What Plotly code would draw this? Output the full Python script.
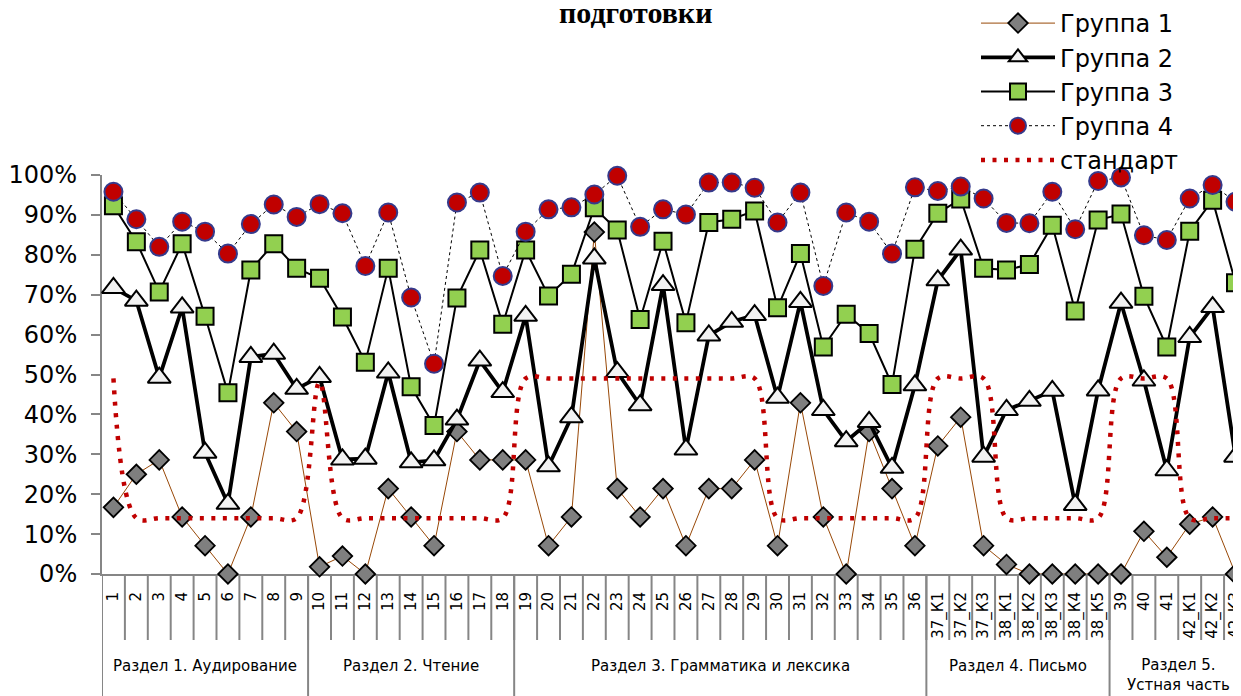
import plotly.graph_objects as go

categories = [str(i) for i in range(1, 37)] + [
    "37_К1", "37_К2", "37_К3",
    "38_К1", "38_К2", "38_К3", "38_К4", "38_К5",
    "39", "40", "41",
    "42_К1", "42_К2", "42_К3"]

group1 = [16.7, 25.0, 28.6, 14.3, 7.1, 0, 14.3, 42.9, 35.7, 1.8,
          4.5, 0, 21.4, 14.3, 7.1, 35.7, 28.6, 28.6, 28.6, 7.1,
          14.3, 85.7, 21.4, 14.3, 21.4, 7.1, 21.4, 21.4, 28.6, 7.1,
          42.9, 14.3, 0, 35.7, 21.4, 7.1,
          32.1, 39.3, 7.1,
          2.4, 0, 0, 0, 0,
          0, 10.7, 4.2,
          12.5, 14.3, 0]

group2 = [71.7, 68.5, 49.2, 66.8, 30.4, 17.6, 54.4, 55.2, 46.4, 49.4,
          28.7, 28.9, 50.5, 28.0, 28.5, 38.7, 53.5, 45.6, 64.7, 27.0,
          39.3, 79.1, 50.6, 42.3, 72.4, 31.2, 59.8, 63.2, 64.9, 44.2,
          68.2, 41.1, 33.3, 38.1, 26.6, 47.3,
          73.6, 81.3, 29.4,
          41.1, 43.4, 45.9, 17.3, 46.0,
          68.0, 48.5, 26.0,
          59.4, 66.9, 29.4]

group3 = [92.3, 83.3, 70.7, 82.8, 64.6, 45.4, 76.2, 82.8, 76.6, 74.1,
          64.4, 53.1, 76.6, 46.9, 37.2, 69.2, 81.2, 62.6, 81.2, 69.7,
          75.1, 91.8, 86.2, 63.8, 83.4, 63.0, 88.1, 88.9, 91.0, 66.7,
          80.3, 56.9, 65.1, 60.3, 47.5, 81.4,
          90.4, 94.0, 76.6,
          76.2, 77.6, 87.4, 65.9, 88.7,
          90.2, 69.6, 56.9,
          85.9, 93.7, 73.0]

group4 = [95.8, 88.9, 82.0, 88.3, 85.8, 80.3, 87.7, 92.6, 89.5, 92.7,
          90.4, 77.2, 90.6, 69.3, 52.7, 93.1, 95.6, 74.7, 85.8, 91.4,
          91.9, 95.1, 99.8, 87.0, 91.4, 90.1, 98.1, 98.1, 96.8, 88.1,
          95.6, 72.2, 90.6, 88.3, 80.3, 96.9,
          96.0, 97.1, 94.1,
          88.0, 87.9, 95.8, 86.4, 98.5,
          99.4, 84.9, 83.7,
          94.1, 97.5, 93.3]

standard = [49, 14, 14, 14, 14, 14, 14, 14, 14, 48,
            14, 14, 14, 14, 14, 14, 14, 14, 49, 49,
            49, 49, 49, 49, 49, 49, 49, 49, 49, 14,
            14, 14, 14, 14, 14, 14,
            49, 49, 49,
            14, 14, 14, 14, 14,
            49, 49, 49,
            14, 14, 14]

section_names = ["Раздел 1. Аудирование", "Раздел 2. Чтение",
                 "Раздел 3. Грамматика и лексика", "Раздел 4. Письмо",
                 "Раздел 5.<br>Устная часть"]
section_sizes = [9, 9, 18, 8, 6]

title_text = "подготовки"

FONT = "DejaVu Sans"
GRAY = "#868686"

fig = go.Figure()

fig.add_trace(go.Scatter(
    x=categories, y=group1, name="Группа 1", mode="lines+markers",
    line=dict(color="#984807", width=1),
    marker=dict(symbol="diamond", size=15, color="#7f7f7f",
                line=dict(color="black", width=1.8)),
    cliponaxis=False))
fig.add_trace(go.Scatter(
    x=categories, y=group2, name="Группа 2", mode="lines+markers",
    line=dict(color="black", width=3.8),
    marker=dict(symbol="triangle-up", size=20, color="#f2f2f2",
                line=dict(color="black", width=2)),
    cliponaxis=False))
fig.add_trace(go.Scatter(
    x=categories, y=group3, name="Группа 3", mode="lines+markers",
    line=dict(color="black", width=2),
    marker=dict(symbol="square", size=17, color="#92d050",
                line=dict(color="black", width=2)),
    cliponaxis=False))
fig.add_trace(go.Scatter(
    x=categories, y=group4, name="Группа 4", mode="lines+markers",
    line=dict(color="black", width=1, dash="dot"),
    marker=dict(symbol="circle", size=18, color="#c00000",
                line=dict(color="#353a8c", width=2)),
    cliponaxis=False))
fig.add_trace(go.Scatter(
    x=categories, y=standard, name="стандарт", mode="lines",
    line=dict(color="#c00000", width=4.5, dash="4px,7.5px",
              shape="spline", smoothing=1),
    cliponaxis=False))

# The page body adds an 8px offset; target page geometry:
OFF = 8
PAGE_W, PAGE_H = 1241, 696
plot_left, plot_top, plot_bottom = 102, 175, 574   # page pixels
W, H = PAGE_W - OFF, PAGE_H - OFF
ml = plot_left - OFF
mt = plot_top - OFF
plot_h = plot_bottom - plot_top
mb = H - mt - plot_h
plot_w = W - ml
n = len(categories)


def px(xpage):
    return (xpage - plot_left) / plot_w


def py(ypage):
    return (plot_bottom - ypage) / plot_h


shapes = []
# short separators between categories
for i in range(n):
    shapes.append(dict(type="line", xref="x", yref="paper",
                       x0=i - 0.5, x1=i - 0.5, y0=0, y1=py(640),
                       line=dict(color=GRAY, width=2), layer="below"))
# long separators at section boundaries
annotations = []
start = 0
for name, size in zip(section_names, section_sizes):
    shapes.append(dict(type="line", xref="x", yref="paper",
                       x0=start - 0.5, x1=start - 0.5, y0=0, y1=py(PAGE_H + 2),
                       line=dict(color=GRAY, width=2), layer="below"))
    two = "<br>" in name
    annotations.append(dict(
        text=name, xref="x", yref="paper",
        x=start + (size - 1) / 2, y=py(675 if two else 666),
        xanchor="center", yanchor="middle", showarrow=False,
        font=dict(family=FONT, size=15, color="black")))
    start += size
shapes.append(dict(type="line", xref="x", yref="paper",
                   x0=start - 0.5, x1=start - 0.5, y0=0, y1=py(PAGE_H + 2),
                   line=dict(color=GRAY, width=2), layer="below"))

annotations.append(dict(
    text="<b>" + title_text + "</b>", xref="paper", yref="paper",
    x=px(635), y=py(12),
    xanchor="center", yanchor="middle", showarrow=False,
    font=dict(family="Liberation Serif", size=30, color="black")))

fig.update_layout(
    width=W, height=H, autosize=False,
    margin=dict(l=ml, r=0, t=mt, b=mb, pad=0, autoexpand=False),
    paper_bgcolor="white", plot_bgcolor="white",
    font=dict(family=FONT, color="black"),
    showlegend=True,
    legend=dict(x=px(976), y=py(1),
                xanchor="left", yanchor="top",
                bgcolor="rgba(0,0,0,0)", itemwidth=74,
                font=dict(family=FONT, size=24, color="black"),
                tracegroupgap=0),
    shapes=shapes, annotations=annotations,
    xaxis=dict(type="category", range=[-0.5, 49.24], tickangle=-90,
               showline=True, linecolor=GRAY, linewidth=2, ticks="",
               showgrid=False, zeroline=False, layer="below traces",
               automargin=False,
               tickfont=dict(family=FONT, size=15, color="black"),
               ticklabelstandoff=10),
    yaxis=dict(range=[0, 100], dtick=10, ticksuffix="%",
               showline=True, linecolor=GRAY, linewidth=2,
               ticks="outside", ticklen=9, tickwidth=2, tickcolor=GRAY,
               showgrid=False, zeroline=False, layer="below traces",
               automargin=False,
               tickfont=dict(family=FONT, size=24, color="black"),
               ticklabelstandoff=9),
)

fig.write_html("out.html")
